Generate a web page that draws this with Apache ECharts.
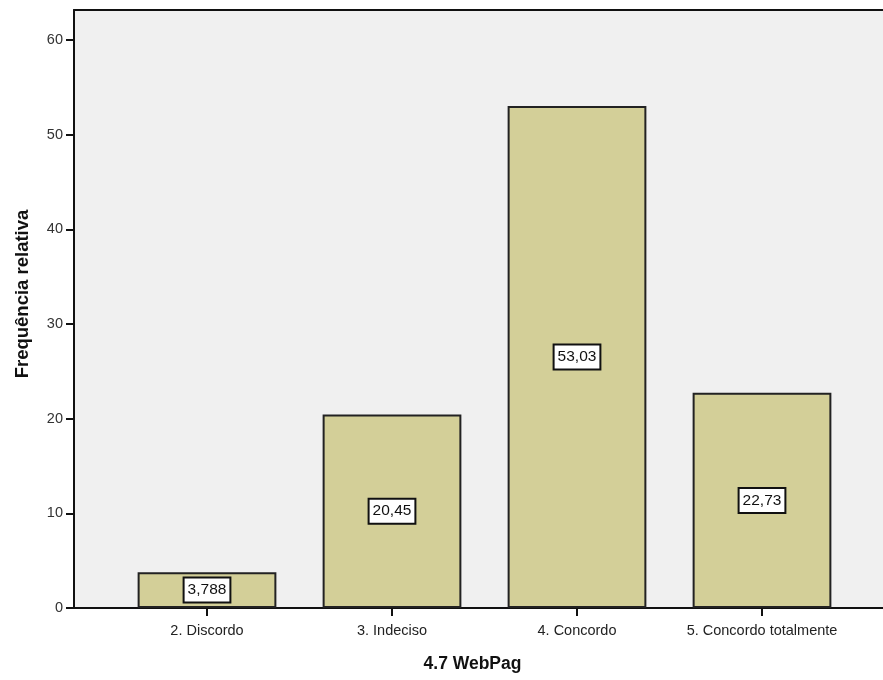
<!DOCTYPE html>
<html>
<head>
<meta charset="utf-8">
<script src="https://cdn.jsdelivr.net/npm/echarts@6/dist/echarts.min.js"></script>
<style>html,body{margin:0;padding:0;background:#fff;}#c{width:883px;height:680px;}</style>
</head>
<body>
<div id="c"></div>
<script>
const categories = ['2. Discordo', '3. Indeciso', '4. Concordo', '5. Concordo totalmente'];
const values = [3.788, 20.45, 53.03, 22.73];
const valueLabels = ['3,788', '20,45', '53,03', '22,73'];
const yTicks = [0, 10, 20, 30, 40, 50, 60];
const xTitle = '4.7 WebPag';
const yTitle = 'Frequência relativa';

const font = 'Liberation Sans, Arial, sans-serif';
const chart = echarts.init(document.getElementById('c'), null, {renderer: 'canvas'});
const yMax = 63.17;
chart.setOption({
  animation: false,
  grid: [
    {left: 74, right: 0, top: 10, bottom: 72, show: true, backgroundColor: '#f0f0f0', borderWidth: 0},
    {left: 114.5, right: 28.5, top: 10, bottom: 72, show: false}
  ],
  xAxis: [
    {gridIndex: 0, type: 'value', min: 0, max: 1,
     axisLine: {show: true, lineStyle: {color: '#111', width: 2}},
     axisTick: {show: false}, axisLabel: {show: false}, splitLine: {show: false},
     name: xTitle, nameLocation: 'middle', nameGap: 47,
     nameTextStyle: {fontFamily: font, fontSize: 17.5, fontWeight: 'bold', color: '#111', padding: [0, 12, 0, 0]}},
    {gridIndex: 1, type: 'category', data: categories,
     axisLine: {show: false},
     axisTick: {show: true, interval: 0, alignWithLabel: true, length: 8, lineStyle: {color: '#111', width: 2}},
     axisLabel: {interval: 0, hideOverlap: false, fontFamily: font, fontSize: 14.5, color: '#222', margin: 15}},
    {gridIndex: 0, type: 'value', position: 'top', min: 0, max: 1,
     axisLine: {show: true, lineStyle: {color: '#111', width: 2}},
     axisTick: {show: false}, axisLabel: {show: false}, splitLine: {show: false}}
  ],
  yAxis: [
    {gridIndex: 0, type: 'value', min: 0, max: yMax, interval: 10,
     axisLine: {show: true, lineStyle: {color: '#111', width: 2}},
     axisTick: {show: true, length: 8, lineStyle: {color: '#111', width: 2}},
     axisLabel: {fontFamily: font, fontSize: 14.5, color: '#333', margin: 11, showMaxLabel: false,
       formatter: v => yTicks.indexOf(v) >= 0 ? String(v) : ''},
     splitLine: {show: false},
     name: yTitle, nameLocation: 'middle', nameGap: 42,
     nameTextStyle: {fontFamily: font, fontSize: 18.5, fontWeight: 'bold', color: '#111', padding: [0, 0, 0, 30]}},
    {gridIndex: 1, type: 'value', min: 0, max: yMax, show: false, splitLine: {show: false}}
  ],
  series: [{
    type: 'bar', xAxisIndex: 1, yAxisIndex: 1, data: values, barWidth: '75%',
    itemStyle: {color: '#d3cf98', borderColor: '#222', borderWidth: 2},
    label: {show: true, position: 'inside', formatter: p => valueLabels[p.dataIndex],
      backgroundColor: '#fff', borderColor: '#111', borderWidth: 2, padding: [4, 3, 3, 3],
      fontFamily: font, fontSize: 15.5, color: '#111'}
  }]
});
</script>
</body>
</html>
